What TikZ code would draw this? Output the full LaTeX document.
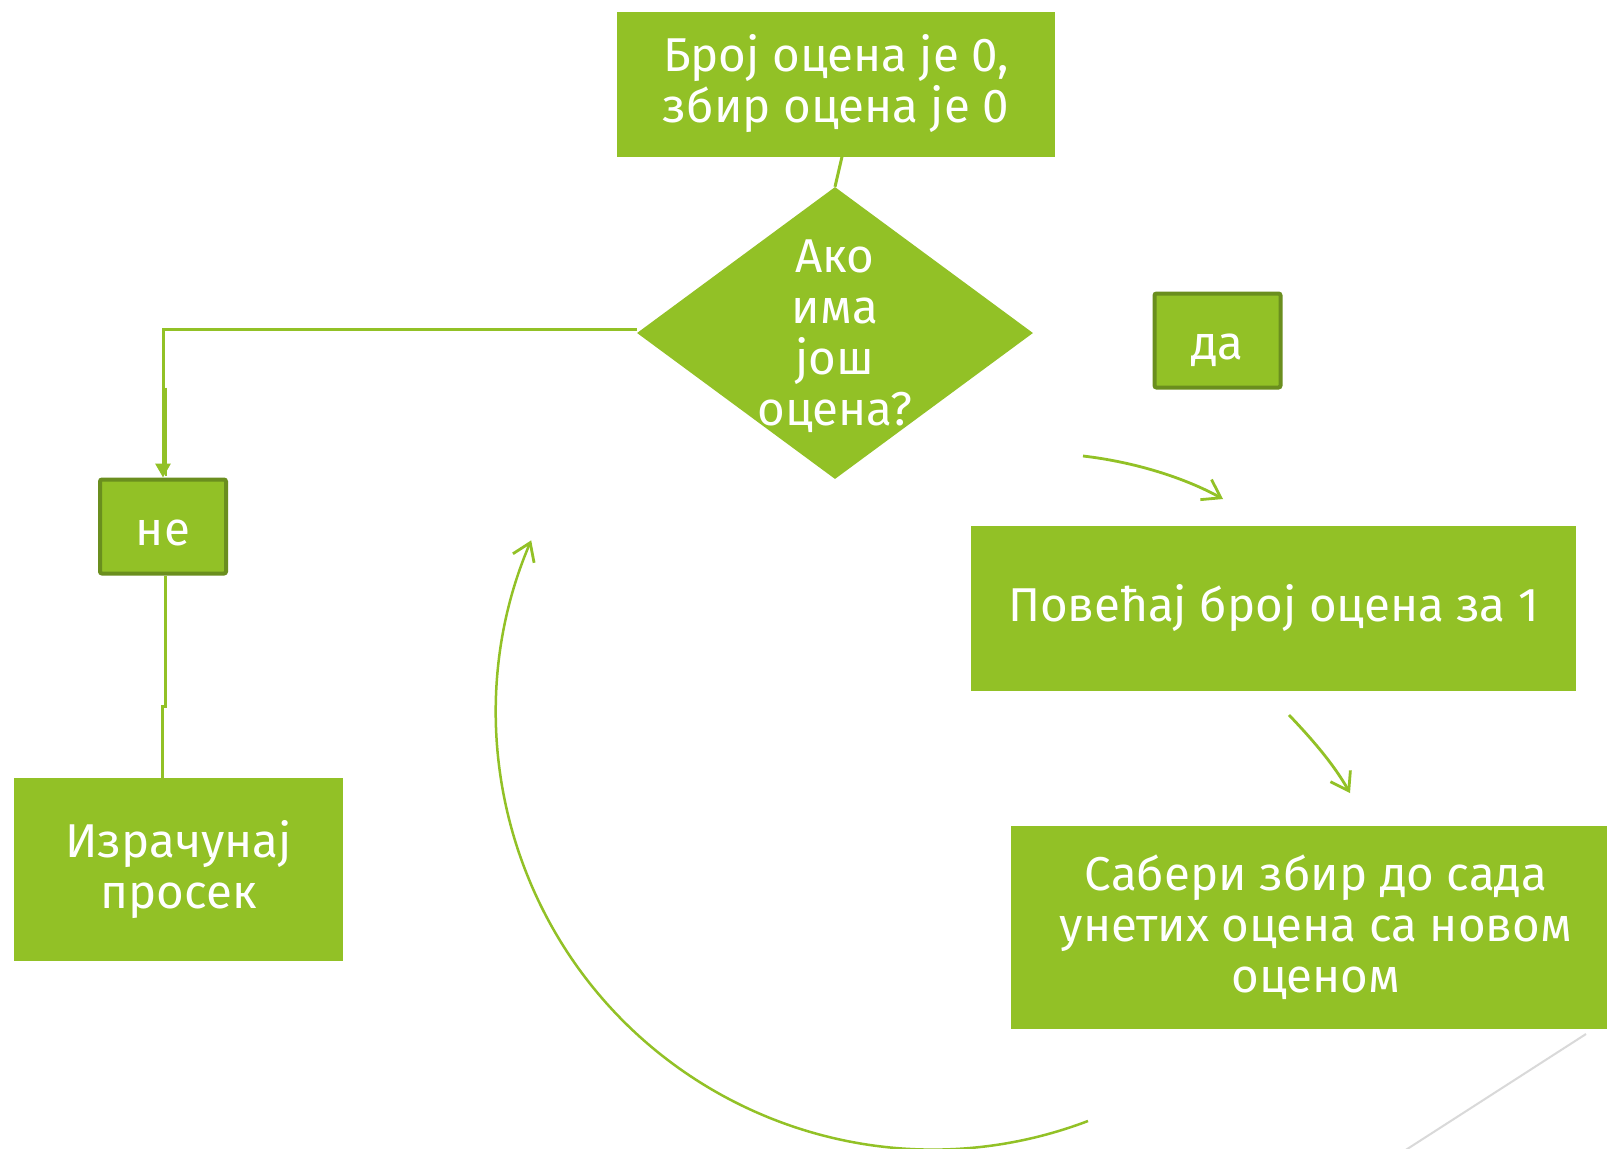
\documentclass[tikz,border=0pt]{standalone}
\usepackage{fontspec}
\setmainfont{Fira Sans}
\usetikzlibrary{shapes.geometric,arrows.meta,calc}
\definecolor{fillg}{RGB}{146,193,38}
\definecolor{edgeg}{RGB}{106,142,30}
\definecolor{greyl}{RGB}{217,217,217}
\begin{document}
\begin{tikzpicture}[x=1pt,y=-1pt,
  txt/.style={text=white, align=center, inner sep=0pt, font=\fontsize{47.5}{51}\selectfont},
  box/.style={txt, rectangle, fill=fillg},
  lbl/.style={box, draw=edgeg, line width=4pt, rounded corners=2pt},
  conn/.style={draw=fillg, line width=3pt},
  flow/.style={draw=fillg, line width=2.8pt, -{Straight Barb[length=17pt,width=23pt,line width=2.8pt]}}]
\useasboundingbox[fill=white] (0,0) rectangle (1607,1149);

% nodes
\node[box, minimum width=438pt, minimum height=145pt] (start) at (836,84) {Број оцена је 0,\\збир оцена је 0};
\node[diamond, fill=fillg, inner sep=0pt, minimum width=396pt, minimum height=292pt] (cond) at (835,333) {};
\node[txt] (condtext) at (835,336) {Ако\\има\\још\\оцена?};
\node[lbl, minimum width=126pt, minimum height=94pt] (da) at (1217.5,340.5) {\raisebox{-19pt}[0pt][0pt]{да}};
\node[lbl, minimum width=126pt, minimum height=94pt] (ne) at (163,526.5) {\raisebox{-19pt}[0pt][0pt]{не}};
\node[box, minimum width=329pt, minimum height=183pt] (calc) at (178.5,869.5) {Израчунај\\просек};
\node[box, minimum width=605pt, minimum height=165pt] (inc) at (1273.5,608.5) {Повећај број оцена за 1};
\node[box, minimum width=610pt, minimum height=203pt] (add) at (1316,927.5) {Сабери збир до сада\\унетих оцена са новом\\оценом};

% connectors
\draw[conn] ($(start.south)+(6,0)$) -- (cond.north);
\draw[conn, -{Triangle[length=14pt,width=15pt]}] ($(cond.west)+(0,-4)$) -| (ne.north);
\draw[conn, line width=2.5pt] ($(ne.north)+(3,-90)$) -- ($(ne.north)+(3,-2)$);
\coordinate (j0) at ($(ne.south)+(2,0)$);
\coordinate (j1) at ($(ne.south)+(2,131)$);
\coordinate (j2) at ($(ne.south)+(-1,131)$);
\draw[conn] (j0) -- (j1) -- (j2) -- (j2 |- calc.north);

% floating flow arrows
\coordinate (a1s) at (1083,456);
\coordinate (a1e) at (1223,499);
\draw[flow] (a1s) .. controls (1135,462) and (1185,478) .. (a1e);
\coordinate (a2s) at (1289,715);
\coordinate (a2e) at (1350,793);
\draw[flow] (a2s) .. controls (1310,737) and (1333,763) .. (a2e);
\coordinate (a3s) at (1088,1121);
\draw[flow, line width=2.5pt] (a3s) arc[start angle=-69.2, end angle=-203.2, radius=437pt];

% grey decorative line
\coordinate (g1) at (1586,1034);
\coordinate (g2) at (1401,1153);
\draw[greyl, line width=2pt] (g1) -- (g2);
\end{tikzpicture}
\end{document}
